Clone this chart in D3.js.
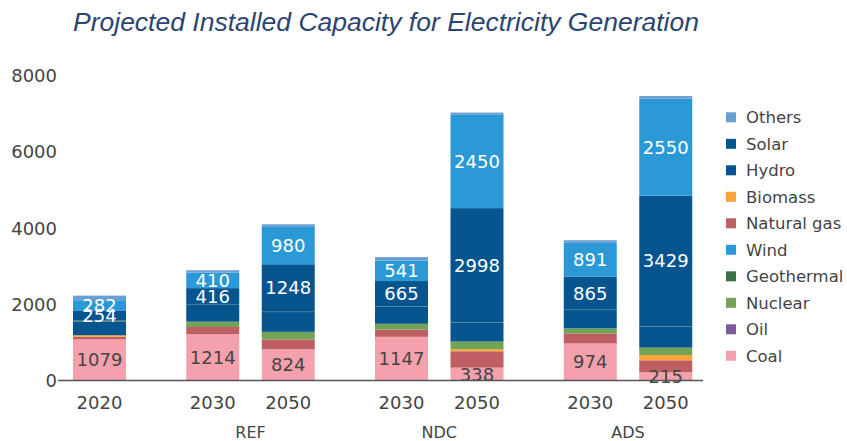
<!DOCTYPE html>
<html>
<head>
<meta charset="utf-8">
<script src="https://cdn.jsdelivr.net/npm/d3@7"></script>
<style>
  body { margin: 0; background: #fff; }
  svg { display: block; }
</style>
</head>
<body>
<svg id="chart" width="847" height="441"></svg>
<script>
// values
const years = ["2020", "2030", "2050", "2030", "2050", "2030", "2050"];
const scenarios = ["", "REF", "REF", "NDC", "NDC", "ADS", "ADS"];

const coal = [1079, 1214, 824, 1147, 338, 974, 215];
const oil = [0, 0, 0, 0, 0, 0, 0];
const naturalGas = [70, 192, 254, 193, 430, 263, 316];
const biomass = [40, 0, 0, 0, 55, 0, 140];
const nuclear = [0, 140, 200, 150, 200, 132, 193];
const hydro = [360, 457, 520, 450, 500, 482, 553];
const geothermal = [25, 8, 8, 8, 8, 8, 8];
const solar = [254, 416, 1248, 665, 2998, 865, 3429];
const wind = [282, 410, 980, 541, 2450, 891, 2550];
const others = [120, 60, 70, 88, 60, 70, 70];

const yTicks = [0, 2000, 4000, 6000, 8000];
const legendNames = ["Others", "Solar", "Hydro", "Biomass", "Natural gas", "Wind", "Geothermal", "Nuclear", "Oil", "Coal"];
const labelled = ["Coal", "Solar", "Wind"];

const series = {
  "Coal": coal, "Oil": oil, "Natural gas": naturalGas, "Biomass": biomass,
  "Nuclear": nuclear, "Hydro": hydro, "Geothermal": geothermal,
  "Solar": solar, "Wind": wind, "Others": others
};
// order of the segments from the bottom up
const stackKeys = ["Coal", "Oil", "Natural gas", "Biomass", "Nuclear", "Hydro", "Geothermal", "Solar", "Wind", "Others"];

const color = d3.scaleOrdinal()
  .domain(["Others", "Solar", "Hydro", "Biomass", "Natural gas", "Wind", "Geothermal", "Nuclear", "Oil", "Coal"])
  .range(["#6a9fd4", "#07558f", "#07558f", "#f6a53a", "#bf5f63", "#2a99d6", "#3a734a", "#72a356", "#7d5a9c", "#f4a1ad"]);

const font = "'DejaVu Sans', sans-serif";
const svg = d3.select("#chart");

let rows = years.map((yr, i) => {
  let r = { i: i, year: yr, scenario: scenarios[i] };
  stackKeys.forEach(k => { r[k] = series[k][i]; });
  return r;
});

// slot index per bar, a half slot of extra room between scenarios
let slot = 0;
rows.forEach((r, i) => {
  if (i > 0) slot += 1 + (scenarios[i] !== scenarios[i - 1] ? 0.5 : 0);
  r.slot = slot;
});

const x = d3.scaleLinear().domain([0, 1]).range([99.5, 175]);
const barW = 53;
const y = d3.scaleLinear().domain([0, 8000]).range([380.5, 76]);

// title
svg.append("text")
  .attr("x", 386).attr("y", 31)
  .attr("text-anchor", "middle")
  .style("font-family", "'Liberation Sans', sans-serif")
  .style("font-style", "italic")
  .style("font-size", "26.5px")
  .style("fill", "#2c4570")
  .text("Projected Installed Capacity for Electricity Generation");

// bars
let stacked = d3.stack().keys(stackKeys)(rows);

let layers = svg.append("g").selectAll("g")
  .data(stacked)
  .enter().append("g")
  .attr("fill", d => color(d.key));

layers.selectAll("rect")
  .data(d => d)
  .enter().append("rect")
  .attr("x", d => x(d.data.slot) - barW / 2)
  .attr("y", d => y(d[1]))
  .attr("width", barW)
  .attr("height", d => y(d[0]) - y(d[1]));

// value labels
stacked.filter(s => labelled.includes(s.key)).forEach(s => {
  svg.append("g").selectAll("text")
    .data(s)
    .enter().append("text")
    .attr("x", d => x(d.data.slot))
    .attr("y", d => (y(d[0]) + y(d[1])) / 2)
    .attr("dy", "0.36em")
    .attr("text-anchor", "middle")
    .style("font-family", font)
    .style("font-size", "18px")
    .style("fill", s.key === "Coal" ? "#444" : "#fff")
    .text(d => d.data[s.key]);
});

// y axis
let yAxis = svg.append("g")
  .attr("transform", "translate(58,0)")
  .call(d3.axisLeft(y).tickValues(yTicks).tickSize(0).tickPadding(1).tickFormat(d3.format("d")));
yAxis.select(".domain").remove();
yAxis.selectAll("text")
  .style("font-family", font)
  .style("font-size", "18px")
  .style("fill", "#444");

// baseline
svg.append("line")
  .attr("x1", 58).attr("x2", 703)
  .attr("y1", y(0)).attr("y2", y(0))
  .attr("stroke", "#555")
  .attr("stroke-width", 1.3);

// year labels
svg.append("g").selectAll("text")
  .data(rows)
  .enter().append("text")
  .attr("x", d => x(d.slot))
  .attr("y", 403)
  .attr("dy", "0.36em")
  .attr("text-anchor", "middle")
  .style("font-family", font)
  .style("font-size", "18px")
  .style("fill", "#444")
  .text(d => d.year);

// scenario labels
let groups = d3.groups(rows.filter(r => r.scenario), r => r.scenario);
svg.append("g").selectAll("text")
  .data(groups)
  .enter().append("text")
  .attr("x", g => d3.mean(g[1], r => x(r.slot)))
  .attr("y", 432)
  .attr("dy", "0.36em")
  .attr("text-anchor", "middle")
  .style("font-family", font)
  .style("font-size", "16px")
  .style("fill", "#444")
  .text(g => g[0]);

// legend
let legend = svg.append("g").selectAll("g")
  .data(legendNames)
  .enter().append("g")
  .attr("transform", (d, i) => "translate(726," + (117.3 + i * 26.5) + ")");

legend.append("rect")
  .attr("x", 0).attr("y", -5)
  .attr("width", 10).attr("height", 10)
  .attr("fill", d => color(d));

legend.append("text")
  .attr("x", 20)
  .attr("dy", "0.36em")
  .style("font-family", font)
  .style("font-size", "16.5px")
  .style("fill", "#444")
  .text(d => d);
</script>
</body>
</html>
